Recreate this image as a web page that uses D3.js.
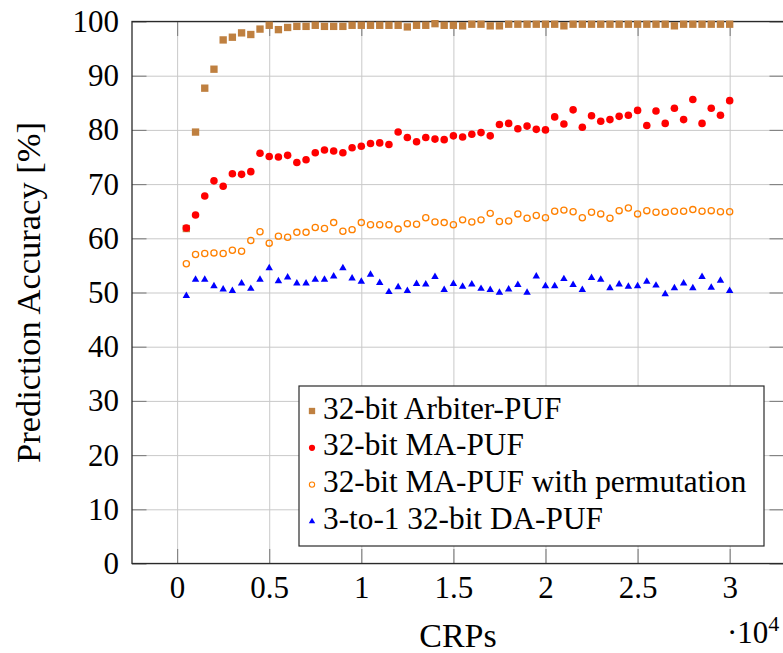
<!DOCTYPE html>
<html>
<head>
<meta charset="utf-8">
<script src="https://cdn.jsdelivr.net/npm/d3@7"></script>
<style>
  html, body { margin: 0; padding: 0; background: #fff; }
  svg { display: block; }
  svg text { font-family: "Liberation Serif", "DejaVu Serif", serif; }
</style>
</head>
<body>
<svg id="chart" width="783" height="653"></svg>
<script>
// Number of challenge-response pairs used for training
const crps = [500, 1000, 1500, 2000, 2500, 3000, 3500, 4000, 4500, 5000,
  5500, 6000, 6500, 7000, 7500, 8000, 8500, 9000, 9500, 10000,
  10500, 11000, 11500, 12000, 12500, 13000, 13500, 14000, 14500, 15000,
  15500, 16000, 16500, 17000, 17500, 18000, 18500, 19000, 19500, 20000,
  20500, 21000, 21500, 22000, 22500, 23000, 23500, 24000, 24500, 25000,
  25500, 26000, 26500, 27000, 27500, 28000, 28500, 29000, 29500, 30000];

// Prediction accuracy (%) per PUF design
const arbiterPuf = [61.8, 79.6, 87.7, 91.2, 96.6, 97.1, 97.9, 97.6, 98.6, 99.3,
  98.5, 98.9, 99.1, 99.1, 99.3, 99.1, 99.1, 99.1, 99.3, 99.3,
  99.3, 99.3, 99.3, 99.3, 99.0, 99.3, 99.3, 99.6, 99.3, 99.3,
  99.2, 99.5, 99.5, 99.2, 99.2, 99.5, 99.5, 99.5, 99.5, 99.5,
  99.5, 99.2, 99.5, 99.5, 99.5, 99.5, 99.5, 99.5, 99.5, 99.5,
  99.5, 99.5, 99.5, 99.2, 99.5, 99.5, 99.5, 99.5, 99.5, 99.5];

const maPuf = [61.9, 64.3, 67.8, 70.6, 69.6, 71.9, 71.8, 72.3, 75.7, 75.1,
  75.0, 75.3, 74.0, 74.5, 75.8, 76.3, 76.1, 75.8, 76.7, 77.0,
  77.5, 77.6, 77.3, 79.6, 78.6, 77.8, 78.6, 78.3, 78.2, 78.9,
  78.7, 79.2, 79.5, 78.9, 81.0, 81.2, 80.2, 80.7, 80.1, 80.0,
  82.4, 81.1, 83.7, 80.5, 82.6, 81.6, 81.9, 82.5, 82.7, 83.6,
  80.8, 83.5, 81.2, 84.0, 81.9, 85.6, 81.2, 84.0, 82.7, 85.4];

const maPufPerm = [55.3, 57.0, 57.2, 57.3, 57.2, 57.8, 57.6, 59.6, 61.2, 59.1,
  60.4, 60.2, 61.1, 61.1, 62.0, 61.8, 62.9, 61.3, 61.6, 62.9,
  62.5, 62.5, 62.5, 61.7, 62.7, 62.6, 63.8, 63.0, 62.9, 62.5,
  63.4, 63.0, 63.4, 64.6, 63.1, 63.2, 64.5, 63.7, 64.2, 63.8,
  65.0, 65.2, 64.9, 63.8, 64.8, 64.5, 63.7, 65.1, 65.6, 64.5,
  65.1, 64.8, 64.8, 65.0, 65.0, 65.3, 65.0, 65.1, 64.9, 64.9];

const daPuf = [49.4, 52.4, 52.4, 51.2, 50.6, 50.3, 51.7, 50.7, 52.4, 54.5,
  52.1, 52.8, 51.7, 51.7, 52.4, 52.4, 53.0, 54.5, 52.6, 52.0,
  53.3, 51.8, 50.1, 51.0, 50.3, 51.6, 51.5, 52.9, 50.5, 51.6,
  51.1, 51.5, 50.7, 50.5, 50.0, 50.6, 51.4, 50.0, 53.0, 51.2,
  51.2, 52.5, 51.4, 50.5, 52.7, 52.4, 50.8, 51.5, 51.1, 51.2,
  52.0, 51.3, 49.7, 50.8, 51.7, 50.8, 52.9, 50.9, 52.2, 50.3];

const seriesNames = ["32-bit Arbiter-PUF", "32-bit MA-PUF",
  "32-bit MA-PUF with permutation", "3-to-1 32-bit DA-PUF"];

const xTicks = [0, 5000, 10000, 15000, 20000, 25000, 30000];
const yTicks = [0, 10, 20, 30, 40, 50, 60, 70, 80, 90, 100];

(function draw() {
  const svg = d3.select("#chart");
  const pl = 132, pr = 784, pt = 21.5, pb = 563.5;
  const tickLen = 14.5;

  // x domain padded by 10% of the data range on each side
  const xMin = d3.min(crps), xMax = d3.max(crps), pad = 0.1 * (xMax - xMin);
  const x = d3.scaleLinear().domain([xMin - pad, xMax + pad]).range([pl, pr]);
  const y = d3.scaleLinear().domain([0, 100]).range([pb, pt]);

  // grid
  const grid = svg.append("g").attr("class", "grid");
  grid.append("g").attr("transform", `translate(0,${pb})`)
    .call(d3.axisBottom(x).tickValues(xTicks).tickSize(-(pb - pt)).tickFormat(""));
  grid.append("g").attr("transform", `translate(${pl},0)`)
    .call(d3.axisLeft(y).tickValues(yTicks).tickSize(-(pr - pl)).tickFormat(""));
  grid.selectAll(".domain").remove();
  grid.selectAll("line").attr("stroke", "#c9c9c9").attr("stroke-width", 1);

  // inward tick marks on all four sides
  const tickStyle = g => {
    g.attr("font-family", null);
    g.select(".domain").remove();
    g.selectAll(".tick line").attr("stroke", "#808080").attr("stroke-width", 1.1);
    g.selectAll("text").attr("fill", "#000");
  };
  svg.append("g").attr("transform", `translate(0,${pb})`)
    .call(d3.axisBottom(x).tickValues(xTicks).tickSize(-tickLen).tickPadding(12)
      .tickFormat(d => d3.format("")(d / 1e4)))
    .call(tickStyle)
    .selectAll("text").attr("font-size", 31);
  svg.append("g").attr("transform", `translate(0,${pt})`)
    .call(d3.axisTop(x).tickValues(xTicks).tickSize(-tickLen).tickFormat(""))
    .call(tickStyle);
  svg.append("g").attr("transform", `translate(${pl},0)`)
    .call(d3.axisLeft(y).tickValues(yTicks).tickSize(-tickLen).tickPadding(13))
    .call(tickStyle)
    .selectAll("text").attr("font-size", 31);
  svg.append("g").attr("transform", `translate(${pr},0)`)
    .call(d3.axisRight(y).tickValues(yTicks).tickSize(-tickLen).tickFormat(""))
    .call(tickStyle);

  // axis frame
  svg.append("rect")
    .attr("x", pl).attr("y", pt)
    .attr("width", pr - pl).attr("height", pb - pt)
    .attr("fill", "none").attr("stroke", "#2a2a2a").attr("stroke-width", 1.3);

  // marks
  const styles = [
    { data: arbiterPuf, type: d3.symbolSquare, size: 54, fill: "#BF8040", stroke: "none", sw: 0 },
    { data: maPuf, type: d3.symbolCircle, size: 45, fill: "#FF0000", stroke: "none", sw: 0 },
    { data: maPufPerm, type: d3.symbolCircle, size: 30, fill: "none", stroke: "#FF8000", sw: 1.3 },
    { data: daPuf, type: d3.symbolTriangle, size: 24, fill: "#0000FF", stroke: "none", sw: 0 }
  ];

  styles.forEach((s, i) => {
    svg.append("g").attr("class", "series-" + i)
      .selectAll("path")
      .data(s.data.map((v, j) => [crps[j], v]))
      .join("path")
      .attr("transform", d => `translate(${x(d[0])},${y(d[1])})`)
      .attr("d", d3.symbol().type(s.type).size(s.size))
      .attr("fill", s.fill)
      .attr("stroke", s.stroke)
      .attr("stroke-width", s.sw);
  });

  // legend
  const legend = svg.append("g").attr("transform", "translate(299,386)");
  legend.append("rect")
    .attr("width", 465).attr("height", 160)
    .attr("fill", "#fff").attr("stroke", "#2a2a2a").attr("stroke-width", 1.2);
  const legendSizes = [40, 30, 22, 18];
  seriesNames.forEach((name, i) => {
    const row = legend.append("g").attr("transform", `translate(0,${25 + i * 36.8})`);
    const s = styles[i];
    row.append("path")
      .attr("transform", "translate(13,0)")
      .attr("d", d3.symbol().type(s.type).size(legendSizes[i]))
      .attr("fill", s.fill).attr("stroke", s.stroke).attr("stroke-width", s.sw ? 1.1 : 0);
    row.append("text")
      .attr("x", 24).attr("y", 7.5)
      .attr("font-size", 31.3).attr("fill", "#000")
      .text(name);
  });

  // axis labels
  svg.append("text")
    .attr("x", (pl + pr) / 2).attr("y", 647)
    .attr("text-anchor", "middle").attr("font-size", 34)
    .text("CRPs");

  svg.append("text")
    .attr("transform", `translate(40,${(pt + pb) / 2}) rotate(-90)`)
    .attr("text-anchor", "middle").attr("font-size", 34.5)
    .text("Prediction Accuracy [%]");

  // scale factor of the x axis
  const mult = svg.append("text").attr("x", 727).attr("y", 643).attr("font-size", 31);
  mult.append("tspan").text("·10");
  mult.append("tspan").attr("dy", -12).attr("font-size", 22).text("4");
})();
</script>
</body>
</html>
